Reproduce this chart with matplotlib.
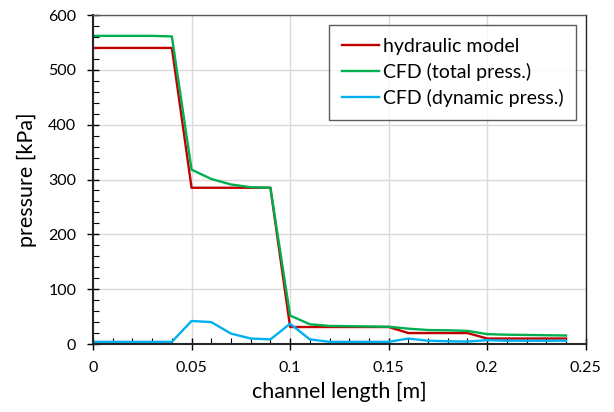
import matplotlib
matplotlib.use("Agg")
import matplotlib.pyplot as plt
from matplotlib.ticker import MultipleLocator

plt.rcParams['font.family'] = ['Lato', 'DejaVu Sans']

# channel position [m]
length_m = [0.00, 0.01, 0.02, 0.03, 0.04, 0.05, 0.06, 0.07, 0.08, 0.09,
            0.10, 0.11, 0.12, 0.13, 0.14, 0.15, 0.16, 0.17, 0.18, 0.19,
            0.20, 0.21, 0.22, 0.23, 0.24]

# pressures [kPa]
hydraulic_model = [540, 540, 540, 540, 540, 285, 285, 285, 285, 285,
                   31, 31, 31, 31, 31, 31, 20, 20, 20, 20,
                   10, 10, 10, 10, 10]
cfd_total = [562, 562, 562, 562, 561, 318, 301, 291, 286, 285,
             52, 36, 33, 32.5, 32, 31.5, 28, 25.5, 25, 24,
             18, 17, 16.5, 16, 15.5]
cfd_dynamic = [4, 4, 4, 4, 4, 42, 40, 19, 10, 8.5,
               37, 8.5, 4, 4, 4, 4, 10, 6, 5, 4.5,
               7, 6, 6, 6, 6]

series_labels = ["hydraulic model", "CFD (total press.)", "CFD (dynamic press.)"]
x_ticks = [0, 0.05, 0.1, 0.15, 0.2, 0.25]
x_tick_labels = ["0", "0.05", "0.1", "0.15", "0.2", "0.25"]

fig = plt.figure(figsize=(6.14, 4.12), dpi=100)
ax = fig.add_axes([0.1515, 0.165, 0.8025, 0.7985])

ax.plot(length_m, hydraulic_model, color="#C00000", lw=1.7, label=series_labels[0])
ax.plot(length_m, cfd_total, color="#00B050", lw=1.7, label=series_labels[1])
ax.plot(length_m, cfd_dynamic, color="#00B0F0", lw=1.7, label=series_labels[2])

ax.set_xlim(0, 0.25)
ax.set_ylim(0, 600)
ax.set_xticks(x_ticks)
ax.set_xticklabels(x_tick_labels)
ax.yaxis.set_major_locator(MultipleLocator(100))
ax.xaxis.set_minor_locator(MultipleLocator(0.01))
ax.yaxis.set_minor_locator(MultipleLocator(20))

ax.grid(True, which="major", color="#D9D9D9", lw=1.0)
ax.set_axisbelow(True)

ax.tick_params(which="major", direction="inout", length=8, width=1.0,
               labelsize=11.5, colors="black", pad=8)
ax.tick_params(which="minor", direction="in", length=4, width=0.8)
ax.tick_params(axis="x", which="both", bottom=True, top=False)
ax.tick_params(axis="y", which="both", left=True, right=False)

for side in ["left", "bottom"]:
    ax.spines[side].set_linewidth(1.5)
    ax.spines[side].set_color("#262626")
ax.spines["top"].set_linewidth(1.0)
ax.spines["top"].set_color("#595959")
ax.spines["right"].set_linewidth(1.0)
ax.spines["right"].set_color("#262626")

ax.set_xlabel("channel length [m]", fontsize=15.5, labelpad=5)
ax.set_ylabel("pressure [kPa]", fontsize=15.5, labelpad=8)

leg = ax.legend(loc="upper right", bbox_to_anchor=(0.98, 0.97), borderaxespad=0,
                fontsize=14, frameon=True, fancybox=False, edgecolor="#333333",
                handlelength=1.9, handletextpad=0.2, borderpad=0.65,
                labelspacing=0.42)
leg.get_frame().set_linewidth(1.0)

fig.savefig("out.png", dpi=100)
